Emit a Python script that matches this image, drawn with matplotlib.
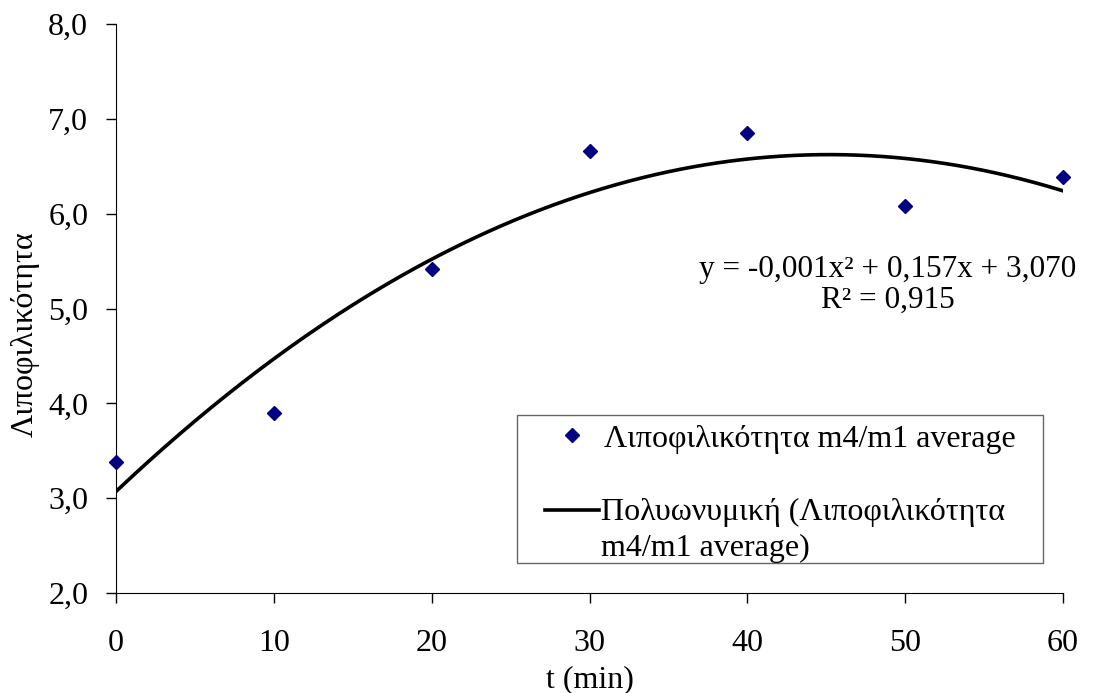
import numpy as np
import matplotlib.pyplot as plt
from matplotlib.lines import Line2D
from matplotlib.patches import Rectangle
from matplotlib.ticker import FuncFormatter

plt.rcParams['font.family'] = ['Liberation Serif', 'DejaVu Serif']

# time points and measured averages
t_min = [0, 10, 20, 30, 40, 50, 60]
lipophilicity = [3.383, 3.902, 5.419, 6.656, 6.854, 6.083, 6.382]

x_ticks = [0, 10, 20, 30, 40, 50, 60]
y_ticks = [2.0, 3.0, 4.0, 5.0, 6.0, 7.0, 8.0]

series_label = "Λιποφιλικότητα m4/m1 average"
trend_label = ["Πολυωνυμική (Λιποφιλικότητα", "m4/m1 average)"]

W, H = 1095, 693
FS = 23


def comma(v, pos=None):
    return f"{v:.1f}".replace(".", ",")


def c3(v):
    return f"{v:.3f}".replace(".", ",")


def px(x, y):
    # pixel position (from top left) -> figure fraction
    return x / W, 1 - y / H


# second order polynomial trendline
coef = np.polyfit(t_min, lipophilicity, 2)
fit = np.poly1d(coef)
pred = fit(np.array(t_min))
y = np.array(lipophilicity)
r2 = 1 - np.sum((y - pred) ** 2) / np.sum((y - y.mean()) ** 2)

fig = plt.figure(figsize=(W / 100, H / 100), dpi=100)
ax = fig.add_axes([116 / W, 1 - 593 / H, (1063 - 116) / W, (593 - 24) / H])

xs = np.linspace(min(t_min), max(t_min), 300)
ax.plot(xs, fit(xs), color="black", lw=2.6, zorder=2)
ax.plot(t_min, lipophilicity, "D", color="#000080", ms=7, zorder=3,
        clip_on=False)

ax.set_xlim(0, 60)
ax.set_ylim(2, 8)
ax.set_xticks(x_ticks)
ax.set_yticks(y_ticks)
ax.yaxis.set_major_formatter(FuncFormatter(comma))
ax.spines["top"].set_visible(False)
ax.spines["right"].set_visible(False)
ax.tick_params(direction="out", length=7, width=1, labelsize=FS)
ax.tick_params(axis="x", pad=19)
ax.tick_params(axis="y", pad=13)

ax.set_xlabel("t (min)", fontsize=FS)
ax.set_ylabel("Λιποφιλικότητα", fontsize=FS)
ax.xaxis.set_label_coords(0.5, -0.153)
ax.yaxis.set_label_coords(-0.096, 0.455)
ax.xaxis.label.set_va("center")
ax.yaxis.label.set_va("center")

# trendline equation (leading coefficient shown as in the source sheet)
eq = f"y = -0,001x² + {c3(coef[1])}x + {c3(coef[2])}"
fig.text(*px(888, 277), eq, fontsize=22.5, ha="center", va="baseline")
fig.text(*px(888, 308), f"R² = {c3(r2)}", fontsize=22.5,
         ha="center", va="baseline")

# legend box
x0, y0 = px(517, 563)
fig.add_artist(Rectangle((x0, y0), (1043 - 517) / W, (563 - 415) / H,
                         transform=fig.transFigure, facecolor="white",
                         edgecolor="#666666", lw=1))
mx, my = px(572, 435)
fig.add_artist(Line2D([mx], [my], marker="D", color="#000080", ms=7,
                      transform=fig.transFigure))
fig.text(*px(604, 447), series_label, fontsize=FS, va="baseline")
lx0, ly = px(545, 510)
lx1, _ = px(599, 510)
fig.add_artist(Line2D([lx0, lx1], [ly, ly], color="black", lw=2.6,
                      transform=fig.transFigure))
fig.text(*px(601, 520), trend_label[0], fontsize=FS, va="baseline")
fig.text(*px(601, 556), trend_label[1], fontsize=FS, va="baseline")

fig.savefig("out.png", dpi=100)
